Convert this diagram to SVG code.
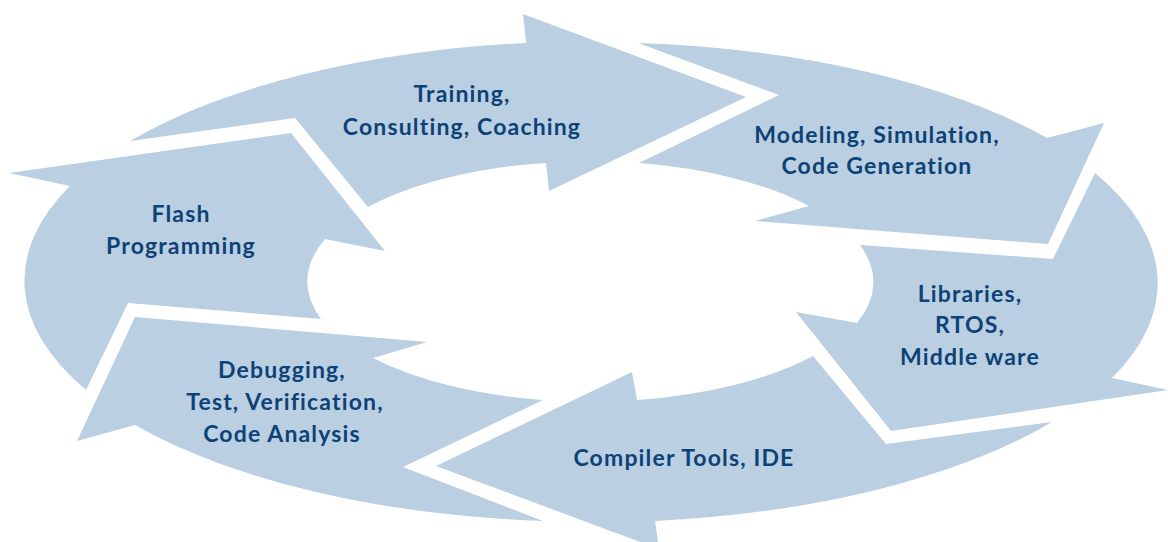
<svg xmlns="http://www.w3.org/2000/svg" width="1168" height="542" viewBox="0 0 1168 542">
<style>
.seg{fill:#BACFE2;stroke:none}
.lbl{font-family:Lato,"Liberation Sans",sans-serif;font-weight:700;font-size:23px;letter-spacing:1.15px;font-variant-ligatures:none;fill:#0D4277;text-anchor:middle}
</style>
<rect width="1168" height="542" fill="#ffffff"/>
<g id="training">
<path class="seg" d="M130,141 A567 241 0 0 1 526,43 L523,14 L746,97 L549,191 L546,163 A283 122 0 0 0 368,207 L295,118 Z"/>
<text class="lbl" x="462" y="102">Training,</text>
<text class="lbl" x="462" y="135">Consulting, Coaching</text>
</g>
<g id="modeling">
<path class="seg" d="M638,43 A567 241 0 0 1 1047,138 L1104,123 L1048,244 L755,221 L809,206 A283 122 0 0 0 639,163 L779,95 Z"/>
<text class="lbl" x="877" y="143">Modeling, Simulation,</text>
<text class="lbl" x="877" y="174">Code Generation</text>
</g>
<g id="libraries">
<path class="seg" d="M1095,173 A567 241 0 0 1 1112,378 L1168,390 L891,431 L796,312 L857,323 A283 122 0 0 0 860,245 L1053,259 Z"/>
<text class="lbl" x="970" y="302">Libraries,</text>
<text class="lbl" x="970" y="333">RTOS,</text>
<text class="lbl" x="970" y="365">Middle ware</text>
</g>
<g id="compiler">
<path class="seg" d="M1052,422 A567 241 0 0 1 655,521 L659,549 L436,466 L632,372 L637,400 A283 122 0 0 0 813,356 L886,444 Z"/>
<text class="lbl" x="684" y="466">Compiler Tools, IDE</text>
</g>
<g id="debugging">
<path class="seg" d="M543,521 A567 241 0 0 1 135,425 L77,441 L135,317 L427,342 L373,358 A283 122 0 0 0 543,400 L403,467 Z"/>
<text class="lbl" x="282" y="378">Debugging,</text>
<text class="lbl" x="285" y="410">Test, Verification,</text>
<text class="lbl" x="282" y="442">Code Analysis</text>
</g>
<g id="flash">
<path class="seg" d="M86,390 A567 241 0 0 1 70,186 L9,173 L291,133 L385,251 L325,239 A283 122 0 0 0 321,319 L128,303 Z"/>
<text class="lbl" x="181" y="222">Flash</text>
<text class="lbl" x="181" y="254">Programming</text>
</g>
</svg>
